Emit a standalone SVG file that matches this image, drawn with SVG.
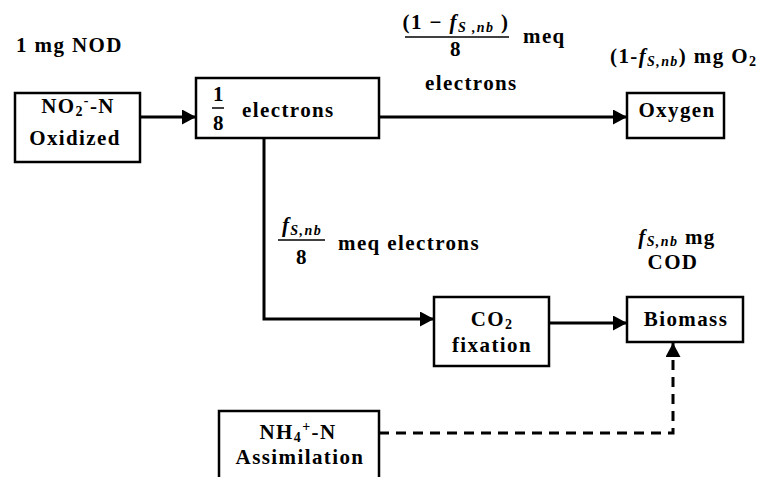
<svg xmlns="http://www.w3.org/2000/svg" width="774" height="477" viewBox="0 0 774 477">
<style>
text{font-family:'Liberation Serif','DejaVu Serif',serif;font-weight:bold;font-size:21px;letter-spacing:1.4px;fill:#000}
.m{text-anchor:middle}
.i{font-style:italic}
.s{font-size:14px}
.box{fill:#fff;stroke:#000;stroke-width:2.5}
.ln{fill:none;stroke:#000;stroke-width:3}
.dash{stroke-dasharray:10 7}
.fr{stroke:#000;stroke-width:1.5}
</style>
<defs>
<marker id="ah" markerUnits="userSpaceOnUse" markerWidth="15" markerHeight="16" refX="14" refY="7.5" orient="auto">
<path d="M0,0 L14,7.5 L0,15 z" fill="#000"/>
</marker>
</defs>
<rect width="774" height="477" fill="#fff"/>

<g id="connectors">
<path class="ln" d="M140,117 H196" marker-end="url(#ah)"/>
<path class="ln" d="M379,117 H627" marker-end="url(#ah)"/>
<path class="ln" d="M264,138 V319 H434" marker-end="url(#ah)"/>
<path class="ln" d="M549,323 H627" marker-end="url(#ah)"/>
<path class="ln dash" d="M379,433 H673 V343" marker-end="url(#ah)"/>
</g>

<g id="labels">
<text x="16" y="52">1 mg NOD</text>
<text class="m" x="456" y="29">(1 − <tspan class="i">f</tspan><tspan class="i s" dy="3">S ,nb</tspan><tspan dy="-3"> )</tspan></text>
<line class="fr" x1="405" y1="37" x2="509" y2="37"/>
<text class="m" x="456" y="56">8</text>
<text x="523" y="43">meq</text>
<text x="425" y="90">electrons</text>
<text x="610" y="63">(1-<tspan class="i">f</tspan><tspan class="i s" dy="3">S,nb</tspan><tspan dy="-3">) mg O</tspan><tspan class="s" dy="3">2</tspan></text>
<text class="m" x="302" y="232"><tspan class="i">f</tspan><tspan class="i s" dy="3">S,nb</tspan></text>
<line class="fr" x1="278" y1="240" x2="325" y2="240"/>
<text class="m" x="302" y="264">8</text>
<text x="338" y="250">meq electrons</text>
<text class="m" x="677" y="244"><tspan class="i">f</tspan><tspan class="i s" dy="2">S,nb</tspan><tspan dy="-2"> mg</tspan></text>
<text class="m" x="673" y="269">COD</text>
</g>

<g id="node-no2">
<rect class="box" x="15" y="93" width="125" height="69"/>
<text class="m" x="78" y="113">NO<tspan class="s" dy="3">2</tspan><tspan class="s" dy="-11">-</tspan><tspan dy="8">-N</tspan></text>
<text class="m" x="75" y="145">Oxidized</text>
</g>

<g id="node-electrons">
<rect class="box" x="196" y="78" width="183" height="60"/>
<text class="m" x="219" y="101">1</text>
<line class="fr" x1="212" y1="108" x2="224" y2="108"/>
<text class="m" x="219" y="130">8</text>
<text x="242" y="117">electrons</text>
</g>

<g id="node-oxygen">
<rect class="box" x="627" y="93" width="97" height="45"/>
<text class="m" x="677" y="117">Oxygen</text>
</g>

<g id="node-co2">
<rect class="box" x="434" y="297" width="115" height="69"/>
<text class="m" x="492" y="326">CO<tspan class="s" dy="3">2</tspan></text>
<text class="m" x="492" y="352">fixation</text>
</g>

<g id="node-biomass">
<rect class="box" x="627" y="297" width="116" height="45"/>
<text class="m" x="686" y="326">Biomass</text>
</g>

<g id="node-nh4">
<rect class="box" x="219" y="411" width="160" height="80"/>
<text class="m" x="298" y="439">NH<tspan class="s" dy="3">4</tspan><tspan class="s" dy="-11">+</tspan><tspan dy="8">-N</tspan></text>
<text class="m" x="300" y="464">Assimilation</text>
</g>
</svg>
